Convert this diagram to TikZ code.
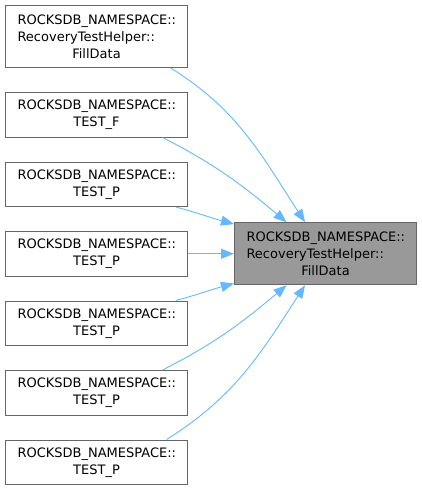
\documentclass[tikz,border=0pt]{standalone}
\usepackage{fontspec}
\setmainfont{DejaVu Sans}
\usetikzlibrary{arrows.meta,positioning}
\definecolor{graphEdge}{HTML}{63B8FF}
\definecolor{graphBorder}{HTML}{666666}
\definecolor{graphFocus}{HTML}{999999}

\begin{document}
\begin{tikzpicture}[x=1pt, y=1pt, node distance=24pt,
    every node/.style={font=\fontsize{13}{17}\selectfont},
    fnbox/.style={draw=graphBorder, line width=1pt, text width=158pt, align=center,
      inner xsep=12pt, inner ysep=2pt, minimum height=44.5pt},
    tallbox/.style={fnbox, minimum height=62pt},
    callarrow/.style={-{Triangle[length=13pt,width=10pt]}, line width=0.9pt, graphEdge}]
  \useasboundingbox (0,0) rectangle (421,-488);
  \node[tallbox, anchor=north west] (c1) at (5,-5) {ROCKSDB\_NAMESPACE::\\RecoveryTestHelper::\hfill\null\\FillData};
  \node[fnbox, below=of c1] (c2) {ROCKSDB\_NAMESPACE::\\TEST\_F};
  \node[fnbox, below=of c2] (c3) {ROCKSDB\_NAMESPACE::\\TEST\_P};
  \node[fnbox, below=of c3] (c4) {ROCKSDB\_NAMESPACE::\\TEST\_P};
  \node[fnbox, below=of c4] (c5) {ROCKSDB\_NAMESPACE::\\TEST\_P};
  \node[fnbox, below=of c5] (c6) {ROCKSDB\_NAMESPACE::\\TEST\_P};
  \node[fnbox, below=of c6] (c7) {ROCKSDB\_NAMESPACE::\\TEST\_P};
  \node[tallbox, fill=graphFocus, right=46pt of c4] (filldata) {ROCKSDB\_NAMESPACE::\\RecoveryTestHelper::\hfill\null\\FillData};
  \foreach \src/\from/\to/\o/\i in {c1/-23/123/-32/123, c2/-19/141/-27/140, c3/-16.5/162/-15/165,
      c5/16.5/198/15/195, c6/19/219/27/220, c7/18/237/32/237}
    \draw[callarrow] (\src.\from) to[out=\o, in=\i] (filldata.\to);
  \draw[callarrow] (c4) -- (filldata);
\end{tikzpicture}
\end{document}
